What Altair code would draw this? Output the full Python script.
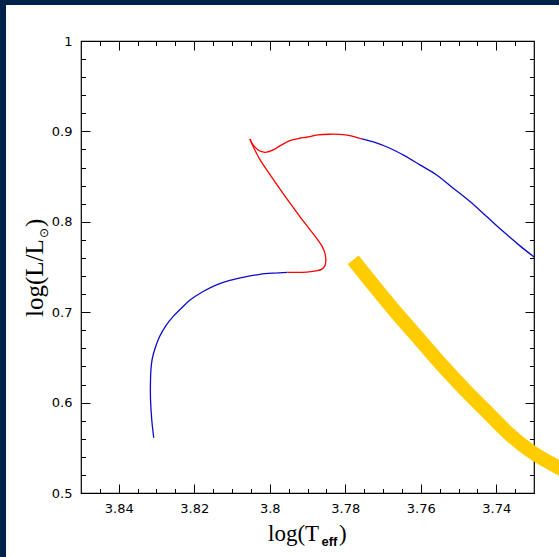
import altair as alt
import pandas as pd

# ---- data ----
blue1_t = [3.83073, 3.83126, 3.83158, 3.8316, 3.83147, 3.83118, 3.83033, 3.82914, 3.82755,
           3.82569, 3.82357, 3.82119, 3.81766, 3.81411, 3.81058, 3.80616, 3.80263, 3.79911,
           3.79529]
blue1_L = [0.56112, 0.58102, 0.60313, 0.62302, 0.63629, 0.64735, 0.66061, 0.67332, 0.68493,
           0.69488, 0.70373, 0.71312, 0.72285, 0.73026, 0.73523, 0.73943, 0.74187, 0.74319,
           0.74408]

red_t = [3.79529, 3.79025, 3.78779, 3.78628, 3.7854, 3.78514, 3.7854, 3.7862, 3.7876, 3.78991,
         3.79203, 3.79468, 3.79733, 3.79998, 3.80263, 3.80422, 3.80528, 3.80441, 3.80308, 3.8021,
         3.80085, 3.79911, 3.79733, 3.79468, 3.79203, 3.79025, 3.78726, 3.78408, 3.78142, 3.77877,
         3.77559]
red_L = [0.74408, 0.7443, 0.74573, 0.74739, 0.75126, 0.75679, 0.7653, 0.77337, 0.78188, 0.79438,
         0.80576, 0.82091, 0.83639, 0.85242, 0.869, 0.88171, 0.89166, 0.88503, 0.8795, 0.87751,
         0.87696, 0.8795, 0.88392, 0.88978, 0.89243, 0.89354, 0.89608, 0.89686, 0.89663, 0.89531,
         0.89166]
red_cusp = 16  # index of the sharp turning point of the red track

blue2_t = [3.77559, 3.77215, 3.76817, 3.76419, 3.76022, 3.75579, 3.75139, 3.74696, 3.74254,
           3.73814, 3.73371, 3.72992]
blue2_L = [0.89166, 0.88779, 0.88138, 0.87287, 0.86292, 0.85186, 0.83716, 0.82234, 0.80576,
           0.78918, 0.77337, 0.76088]

yellow_t = [3.7779, 3.77215, 3.76639, 3.76022, 3.75404, 3.74802, 3.74254, 3.73636, 3.73018,
            3.72337, 3.71913]
yellow_L = [0.7579, 0.72805, 0.69897, 0.66946, 0.63994, 0.61307, 0.59019, 0.56443, 0.5442,
            0.52795, 0.51911]

x_major = [3.84, 3.82, 3.80, 3.78, 3.76, 3.74]
x_minor = [3.845, 3.835, 3.83, 3.825, 3.815, 3.81, 3.805, 3.795, 3.79, 3.785,
           3.775, 3.77, 3.765, 3.755, 3.75, 3.745, 3.735]
y_major = [0.5, 0.6, 0.7, 0.8, 0.9, 1.0]
y_minor = [0.52, 0.54, 0.56, 0.58, 0.62, 0.64, 0.66, 0.68, 0.72, 0.74, 0.76, 0.78,
           0.82, 0.84, 0.86, 0.88, 0.92, 0.94, 0.96, 0.98]

x_title_main = ["log(T"]
x_title_sub = ["eff"]
y_title_main = ["log(L/L"]
y_title_sub = ["\u2299"]
close_paren = [")"]

# ---- layout ----
W, H = 453, 452
NAVY = "#002349"
SERIF = "Liberation Serif"
SANS = "DejaVu Sans"
INTERP = "catmull-rom"


def frame(t, L):
    return pd.DataFrame({"t": t, "L": L, "i": list(range(len(t)))})


xscale = alt.Scale(domain=[3.73, 3.85], reverse=True, zero=False, nice=False)
yscale = alt.Scale(domain=[0.5, 1.0], zero=False, nice=False)


def tick_axis(orient, offset, values, size):
    return alt.Axis(orient=orient, offset=offset, values=values, tickSize=size, ticks=True,
                    labels=False, domain=False, grid=False, title="",
                    tickColor="black", tickWidth=1)


main_x = alt.Axis(orient="bottom", values=x_major, format="~g", ticks=False, domain=False,
                  grid=False, title="", labelFont=SANS, labelFontSize=13, labelColor="black",
                  labelPadding=9)
main_y = alt.Axis(orient="left", values=y_major, format="~g", ticks=False, domain=False,
                  grid=False, title="", labelFont=SANS, labelFontSize=13, labelColor="black",
                  labelPadding=9)

one = pd.DataFrame({"a": [0]})

# navy slide border (top and left strips)
left_strip = alt.Chart(one).mark_rect(color=NAVY, clip=False).encode(
    x=alt.value(-81), x2=alt.value(-75), y=alt.value(-41), y2=alt.value(H + 70))
top_strip = alt.Chart(one).mark_rect(color=NAVY, clip=False).encode(
    x=alt.value(-81), x2=alt.value(W + 30), y=alt.value(-41), y2=alt.value(-36))

yellow = alt.Chart(frame(yellow_t, yellow_L)).mark_line(
    color="#FFCC00", strokeWidth=14, clip=False, strokeCap="butt",
    interpolate=INTERP).encode(
    x=alt.X("t:Q", scale=xscale, axis=main_x),
    y=alt.Y("L:Q", scale=yscale, axis=main_y),
    order="i:Q")

blue1 = alt.Chart(frame(blue1_t, blue1_L)).mark_line(
    color="#0b0bcc", strokeWidth=1.3, clip=True, interpolate=INTERP).encode(
    x=alt.X("t:Q", scale=xscale, axis=tick_axis("top", -H, x_major, 9)),
    y=alt.Y("L:Q", scale=yscale, axis=tick_axis("right", -W, y_major, 9)),
    order="i:Q")

blue2 = alt.Chart(frame(blue2_t, blue2_L)).mark_line(
    color="#0b0bcc", strokeWidth=1.3, clip=True, interpolate=INTERP).encode(
    x=alt.X("t:Q", scale=xscale, axis=tick_axis("top", -H, x_minor, 4.5)),
    y=alt.Y("L:Q", scale=yscale, axis=tick_axis("right", -W, y_minor, 4.5)),
    order="i:Q")

red_df = frame(red_t, red_L)

red_a = alt.Chart(red_df).transform_filter(
    alt.datum.i <= red_cusp).mark_line(
    color="#ff0000", strokeWidth=1.3, clip=True, interpolate=INTERP).encode(
    x=alt.X("t:Q", scale=xscale, axis=tick_axis("bottom", -H, x_major, 9)),
    y=alt.Y("L:Q", scale=yscale, axis=tick_axis("left", -W, y_major, 9)),
    order="i:Q")

red_b = alt.Chart(red_df).transform_filter(
    alt.datum.i >= red_cusp).mark_line(
    color="#ff0000", strokeWidth=1.3, clip=True, interpolate=INTERP).encode(
    x=alt.X("t:Q", scale=xscale, axis=tick_axis("bottom", -H, x_minor, 4.5)),
    y=alt.Y("L:Q", scale=yscale, axis=tick_axis("left", -W, y_minor, 4.5)),
    order="i:Q")


def label_layer(texts, **props):
    pos = {k: props.pop(k) for k in ["x", "y"]}
    return alt.Chart(pd.DataFrame({"s": texts})).mark_text(
        color="black", clip=False, **props).encode(
        text="s:N", x=alt.value(pos["x"]), y=alt.value(pos["y"]))


xt1 = label_layer(x_title_main, x=187, y=499.5, align="left", baseline="alphabetic",
                  font=SERIF, fontSize=23)
xt2 = label_layer(x_title_sub, x=240.5, y=505, align="left", baseline="alphabetic",
                  font="Liberation Sans", fontSize=13, fontWeight="bold")
xt3 = label_layer(close_paren, x=258, y=499.5, align="left", baseline="alphabetic",
                  font=SERIF, fontSize=23)

yt1 = label_layer(y_title_main, x=-38, y=276, align="left", baseline="alphabetic",
                  font=SERIF, fontSize=25, angle=270)
yt2 = label_layer(y_title_sub, x=-33, y=197, align="left", baseline="alphabetic",
                  font=SANS, fontSize=12, angle=270)
yt3 = label_layer(close_paren, x=-38, y=186, align="left", baseline="alphabetic",
                  font=SERIF, fontSize=25, angle=270)

chart = alt.layer(
    left_strip, top_strip, yellow, blue1, red_a, red_b, blue2,
    xt1, xt2, xt3, yt1, yt2, yt3
).resolve_axis(
    x="independent", y="independent"
).properties(
    width=W, height=H,
    autosize=alt.AutoSizeParams(type="none"),
    padding={"left": 81, "top": 41, "right": 25, "bottom": 64},
).configure(
    background="white"
).configure_view(
    stroke="black", strokeWidth=1.2
)

chart.save("out.html", embed_options={"renderer": "svg", "actions": False})
